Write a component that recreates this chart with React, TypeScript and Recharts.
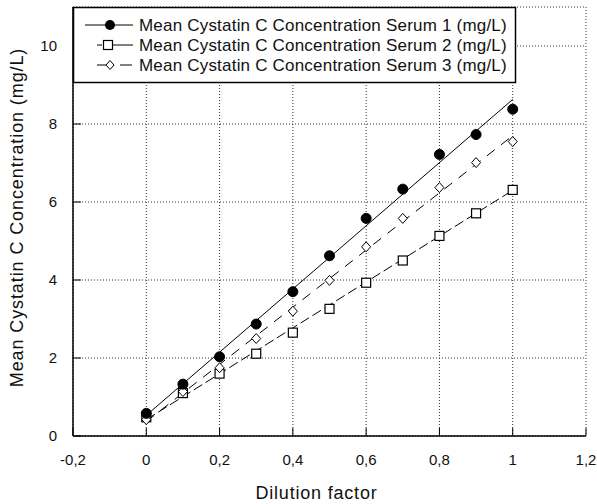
import React from 'react';
import { ComposedChart, Line, XAxis, YAxis, CartesianGrid, Legend } from 'recharts';

const dilution = [0, 0.1, 0.2, 0.3, 0.4, 0.5, 0.6, 0.7, 0.8, 0.9, 1.0];
const serum1 = [0.58, 1.33, 2.03, 2.87, 3.7, 4.62, 5.58, 6.33, 7.22, 7.73, 8.38];
const serum2 = [0.48, 1.1, 1.6, 2.11, 2.65, 3.26, 3.93, 4.5, 5.13, 5.71, 6.31];
const serum3 = [0.42, 1.14, 1.75, 2.5, 3.2, 3.99, 4.85, 5.58, 6.37, 7.01, 7.55];

const fitX = [0, 1];
const fit1 = [0.53, 8.63];
const fit2 = [0.42, 6.3];
const fit3 = [0.37, 7.7];

const xTicks = [-0.2, 0, 0.2, 0.4, 0.6, 0.8, 1, 1.2];
const yTicks = [0, 2, 4, 6, 8, 10];

const seriesNames = [
  'Mean Cystatin C Concentration Serum 1 (mg/L)',
  'Mean Cystatin C Concentration Serum 2 (mg/L)',
  'Mean Cystatin C Concentration Serum 3 (mg/L)',
];
const xTitle = 'Dilution factor';
const yTitle = 'Mean Cystatin C Concentration (mg/L)';

const points = dilution.map((x, i) => ({ x, s1: serum1[i], s2: serum2[i], s3: serum3[i] }));
const fits = fitX.map((x, i) => ({ x, f1: fit1[i], f2: fit2[i], f3: fit3[i] }));

const FONT = '"Liberation Sans", Arial, sans-serif';

const CircleDot = (props: any) => {
  const { cx, cy, index } = props;
  if (cx == null || cy == null) return <g key={`c${index}`} />;
  return <circle key={`c${index}`} cx={cx} cy={cy} r={5} fill="#000" stroke="#000" strokeWidth={1} />;
};
const SquareDot = (props: any) => {
  const { cx, cy, index } = props;
  if (cx == null || cy == null) return <g key={`s${index}`} />;
  return <rect key={`s${index}`} x={cx - 4.5} y={cy - 4.5} width={9} height={9} fill="#fff" stroke="#000" strokeWidth={1.2} />;
};
const DiamondDot = (props: any) => {
  const { cx, cy, index } = props;
  if (cx == null || cy == null) return <g key={`d${index}`} />;
  return (
    <polygon
      key={`d${index}`}
      points={`${cx},${cy - 5} ${cx + 4.5},${cy} ${cx},${cy + 5} ${cx - 4.5},${cy}`}
      fill="#fff"
      stroke="#000"
      strokeWidth={1}
    />
  );
};

const LegendBox = () => {
  const rowY = [18, 38, 58];
  return (
    <svg width={444} height={77} style={{ display: 'block', overflow: 'visible' }}>
      <rect x={0.5} y={0.5} width={442} height={75} fill="#fff" stroke="#000" strokeWidth={1.5} />
      {/* row 1 */}
      <line x1={12} x2={60} y1={rowY[0]} y2={rowY[0]} stroke="#000" />
      <circle cx={37} cy={rowY[0]} r={5} fill="#000" />
      {/* row 2 */}
      <line x1={24} x2={29} y1={rowY[1]} y2={rowY[1]} stroke="#000" />
      <rect x={30.5} y={rowY[1] - 4.5} width={9} height={9} fill="#fff" stroke="#000" strokeWidth={1.2} />
      <line x1={40} x2={60} y1={rowY[1]} y2={rowY[1]} stroke="#000" />
      {/* row 3 */}
      <line x1={24} x2={33} y1={rowY[2]} y2={rowY[2]} stroke="#000" />
      <polygon
        points={`37,${rowY[2] - 4.5} 41,${rowY[2]} 37,${rowY[2] + 4.5} 33,${rowY[2]}`}
        fill="#fff"
        stroke="#000"
      />
      <line x1={47} x2={59} y1={rowY[2]} y2={rowY[2]} stroke="#000" />
      {seriesNames.map((n, i) => (
        <text
          key={n}
          x={66}
          y={rowY[i]}
          dominantBaseline="central"
          fontFamily={FONT}
          fontSize={17}
          letterSpacing={0.2}
          fill="#111"
        >
          {n}
        </text>
      ))}
    </svg>
  );
};

const fmt = (v: number) => String(v).replace('.', ',');

const YTitle = (p: any) => {
  const vb = p.viewBox || { x: 0, y: 7, width: 73, height: 429 };
  const cx = vb.x + 17;
  const cy = vb.y + vb.height / 2 - 4;
  return (
    <text
      x={cx}
      y={cy}
      transform={`rotate(-90 ${cx} ${cy})`}
      textAnchor="middle"
      dominantBaseline="central"
      fontFamily={FONT}
      fontSize={18}
      letterSpacing={0.9}
      fill="#111"
    >
      {yTitle}
    </text>
  );
};

const XTitle = (p: any) => {
  const vb = p.viewBox || { x: 73, y: 436, width: 513, height: 68 };
  const x = vb.x + vb.width / 2 - 13;
  const y = vb.y + vb.height - 5.5;
  return (
    <text x={x} y={y} textAnchor="middle" fontFamily={FONT} fontSize={18} letterSpacing={0.8} fill="#111">
      {xTitle}
    </text>
  );
};

export default function App() {
  return (
    <div style={{ position: 'absolute', left: 0, top: 0, width: 597, height: 504, background: '#fff', fontFamily: FONT }}>
      <ComposedChart width={597} height={504} data={points} margin={{ top: 7, right: 11, bottom: 0, left: 0 }}>
        <CartesianGrid stroke="#333" strokeDasharray="1 2" />
        <XAxis
          dataKey="x"
          type="number"
          domain={[-0.2, 1.2]}
          ticks={xTicks}
          tickFormatter={fmt}
          height={68}
          axisLine={{ stroke: '#000', strokeWidth: 1.5 }}
          tickLine={{ stroke: '#000' }}
          tickSize={-8}
          tickMargin={26}
          tick={{ fontSize: 15, fill: '#111', fontFamily: FONT }}
          interval={0}
          label={{ content: XTitle }}
        />
        <XAxis
          xAxisId="top"
          orientation="top"
          type="number"
          domain={[-0.2, 1.2]}
          height={0}
          tick={false}
          tickLine={false}
          axisLine={{ stroke: '#000', strokeWidth: 1.5 }}
        />
        <YAxis
          type="number"
          domain={[0, 11]}
          ticks={yTicks}
          width={73}
          axisLine={{ stroke: '#000', strokeWidth: 1.5 }}
          tickLine={{ stroke: '#000' }}
          tickSize={-8}
          tickMargin={24}
          tick={{ fontSize: 15, fill: '#111', fontFamily: FONT }}
          interval={0}
          label={{ content: YTitle }}
        />
        <YAxis
          yAxisId="right"
          orientation="right"
          type="number"
          domain={[0, 11]}
          ticks={yTicks}
          width={0}
          mirror
          tickSize={8}
          tickFormatter={() => ''}
          axisLine={{ stroke: '#000', strokeWidth: 1.5 }}
          tickLine={{ stroke: '#000' }}
          interval={0}
        />
        <Legend
          layout="vertical"
          align="center"
          verticalAlign="middle"
          content={() => <LegendBox />}
          wrapperStyle={{ left: 73, top: 7, width: 444, height: 77 }}
        />
        <Line data={fits} dataKey="f1" stroke="#000" strokeWidth={1} dot={false} activeDot={false} isAnimationActive={false} legendType="none" />
        <Line data={fits} dataKey="f2" stroke="#000" strokeWidth={1} strokeDasharray="10 4" dot={false} activeDot={false} isAnimationActive={false} legendType="none" />
        <Line data={fits} dataKey="f3" stroke="#000" strokeWidth={1} strokeDasharray="10 8" dot={false} activeDot={false} isAnimationActive={false} legendType="none" />
        <Line dataKey="s2" stroke="none" dot={SquareDot} activeDot={false} isAnimationActive={false} legendType="none" />
        <Line dataKey="s3" stroke="none" dot={DiamondDot} activeDot={false} isAnimationActive={false} legendType="none" />
        <Line dataKey="s1" stroke="none" dot={CircleDot} activeDot={false} isAnimationActive={false} legendType="none" />
      </ComposedChart>
    </div>
  );
}
